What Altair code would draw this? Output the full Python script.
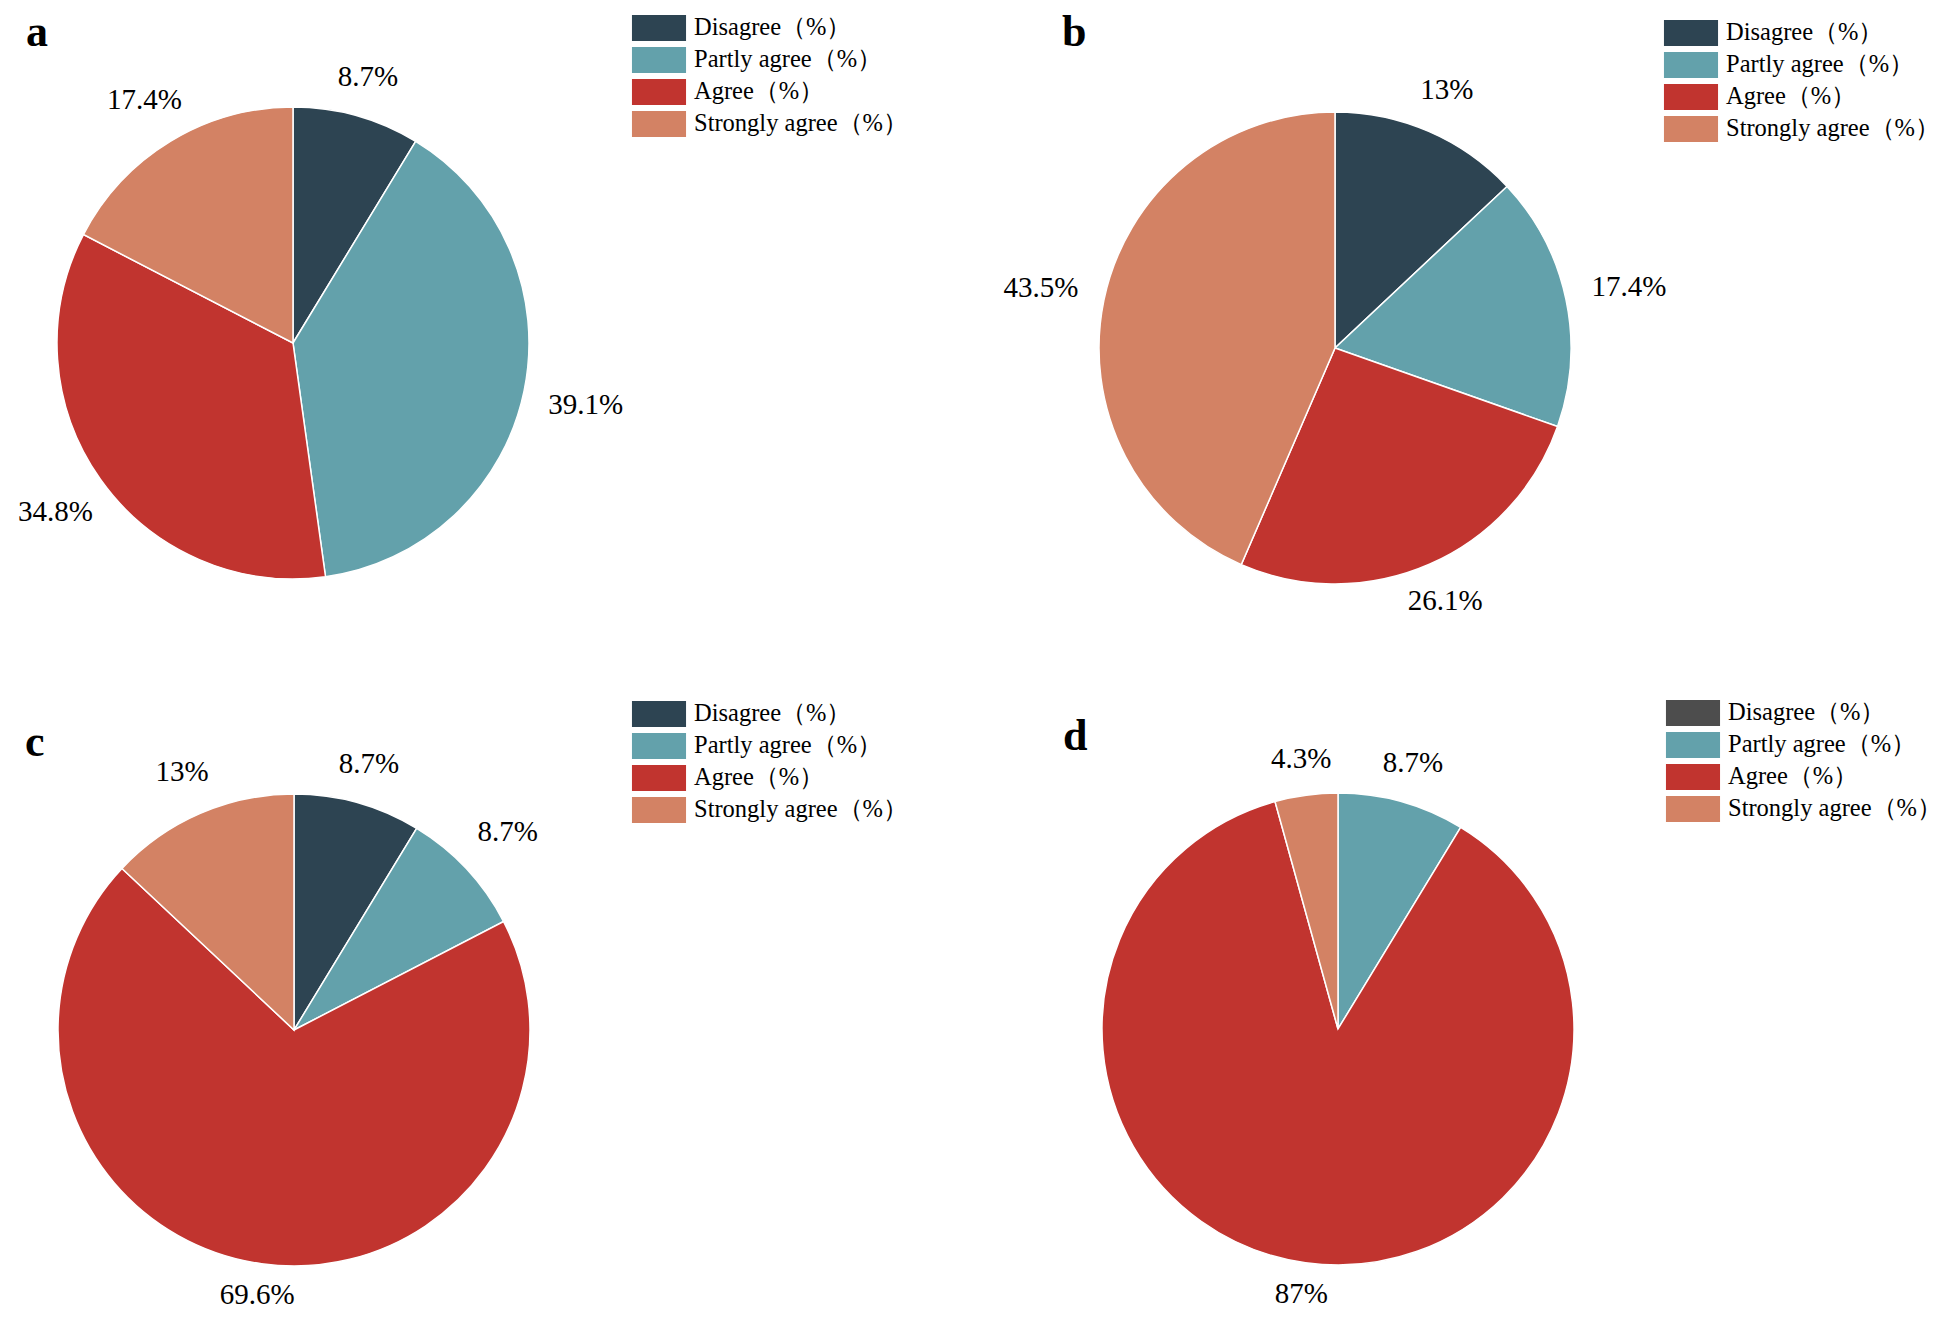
import altair as alt
import pandas as pd

categories = ["Disagree（%）", "Partly agree（%）", "Agree（%）", "Strongly agree（%）"]
values_a = [8.7, 39.1, 34.8, 17.4]
values_b = [13.0, 17.4, 26.1, 43.5]
values_c = [8.7, 8.7, 69.6, 13.0]
values_d = [0.0, 8.7, 87.0, 4.3]
labels_a = ["8.7%", "39.1%", "34.8%", "17.4%"]
labels_b = ["13%", "17.4%", "26.1%", "43.5%"]
labels_c = ["8.7%", "8.7%", "69.6%", "13%"]
labels_d = ["0%", "8.7%", "87%", "4.3%"]
panel_letters = ["a", "b", "c", "d"]

colors = ["#2d4452", "#63a1ab", "#c1342f", "#d38264"]
colors_d = ["#4d4d4d", "#63a1ab", "#c1342f", "#d38264"]

SERIF = "Liberation Serif"
R = 236
W, H = 1928, 1303


def panel(letter, values, labels, cols, cx, cy, lx, ly, tx, ty):
    df = pd.DataFrame({
        "category": categories,
        "value": values,
        "label": labels,
        "idx": list(range(len(categories))),
    })
    base = alt.Chart(df)
    tscale = alt.Scale(domain=[0, 100])
    arc = base.mark_arc(radius=R, stroke="white", strokeWidth=1.5).encode(
        theta=alt.Theta("value:Q", stack=True, scale=tscale),
        order=alt.Order("idx:Q"),
        color=alt.Color(
            "category:N",
            sort=categories,
            scale=alt.Scale(domain=categories, range=cols),
            legend=alt.Legend(
                title=None, orient="none", legendX=lx, legendY=ly,
                symbolType="M-2.08,-1H2.08V1H-2.08Z", symbolSize=676,
                symbolStrokeWidth=0, symbolOpacity=1,
                labelFont=SERIF, labelFontSize=24.5, labelColor="black",
                labelOffset=22, rowPadding=6, padding=0, labelLimit=400,
            ),
        ),
        x=alt.value(cx), y=alt.value(cy),
    )
    text = base.transform_window(
        cum="sum(value)", sort=[alt.SortField("idx")]
    ).transform_filter("datum.value > 0").transform_calculate(
        ang="2*PI*(datum.cum - datum.value/2)/100",
    ).transform_calculate(
        lr="269 + 32*abs(sin(datum.ang)) - 7*max(0, -cos(datum.ang))",
    ).mark_text(font=SERIF, fontSize=29, color="black", dy=1).encode(
        theta=alt.Theta("ang:Q", stack=None, scale=None),
        radius=alt.Radius("lr:Q", scale=None),
        text="label:N",
        x=alt.value(cx), y=alt.value(cy),
    )
    lab = alt.Chart(pd.DataFrame({"t": [letter]})).mark_text(
        font=SERIF, fontSize=44, fontWeight="bold", color="black",
        align="left", baseline="alphabetic"
    ).encode(text="t:N", x=alt.value(tx), y=alt.value(ty))
    return [arc, text, lab]


layers = []
layers += panel("a", values_a, labels_a, colors, 285, 335, 638, 7, 18, 38)
layers += panel("b", values_b, labels_b, colors, 1327, 340, 1670, 12, 1054, 38)
layers += panel("c", values_c, labels_c, colors, 286, 1022, 638, 693, 17, 748)
layers += panel("d", values_d, labels_d, colors_d, 1330, 1021, 1672, 692, 1055, 742)

chart = alt.layer(*layers).resolve_scale(color="independent", theta="independent").properties(
    width=W, height=H, padding=0, background="white",
    autosize=alt.AutoSizeParams(type="none"),
).configure_view(stroke=None)

chart.save("out.html", embed_options={"renderer": "svg", "actions": False})
